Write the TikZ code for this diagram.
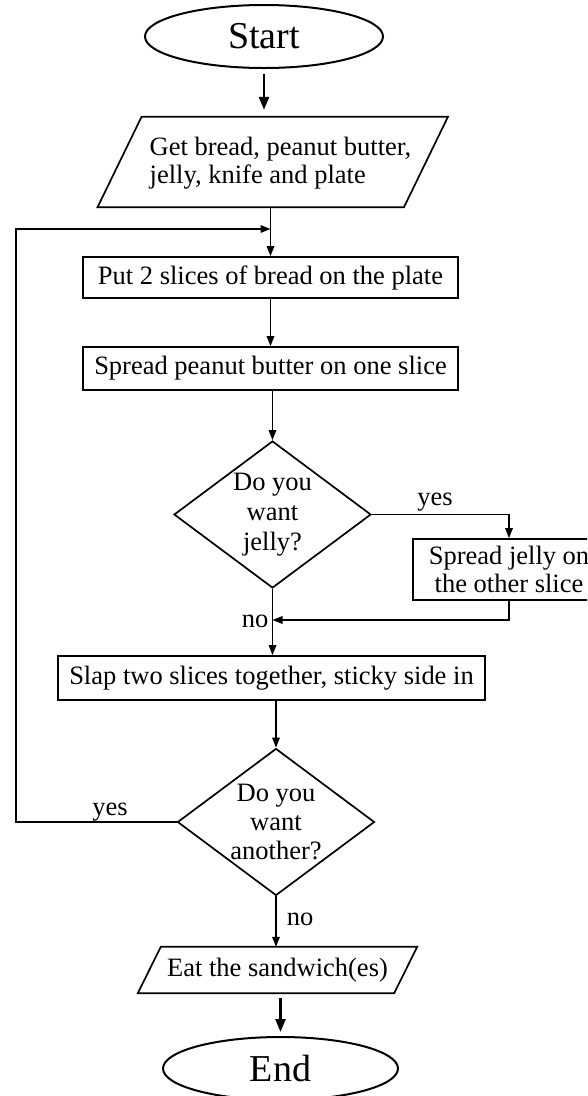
\documentclass[tikz,border=0pt]{standalone}
\usepackage{fontspec}
\setmainfont{Liberation Serif}
\usetikzlibrary{shapes.geometric,arrows.meta,calc}
\begin{document}
\begin{tikzpicture}[x=1pt,y=-1pt,
  every node/.style={font=\fontsize{26.5}{28}\selectfont, inner sep=0pt},
  term/.style={draw, ellipse, line width=2pt, minimum width=238pt, minimum height=63pt, font=\fontsize{38}{40}\selectfont},
  proc/.style={draw, rectangle, line width=1.7pt, align=center},
  io/.style={rectangle, align=center},
  dec/.style={draw, diamond, aspect=1.34, line width=1.7pt, minimum width=197pt, minimum height=147pt},
  arr/.style={-{Triangle[length=10pt,width=7.5pt]}, line width=1.6pt},
  bigarr/.style={-{Triangle[length=13pt,width=10pt]}, line width=2.5pt},
  pline/.style={line width=1.7pt, line join=miter}
]
\useasboundingbox (0,0) rectangle (587,1096);
\clip (0,0) rectangle (587,1096);

% nodes
\node[term] (start) at (264,36.5) {Start};
\node[io, minimum width=306pt, minimum height=90pt] (get) at (272.75,162) {};
\draw[pline] ([xshift=22pt]get.north west) -- ([xshift=22pt]get.north east)
  -- ([xshift=-22pt]get.south east) -- ([xshift=-22pt]get.south west) -- cycle;
\node[align=left] (gettext) at (280.5,163) {Get bread, peanut butter,\\jelly, knife and plate};

\node[proc, minimum width=375pt, minimum height=41pt] (put) at (270.5,277.5) {Put 2 slices of bread on the plate};
\node[proc, minimum width=375pt, minimum height=43pt] (spread) at (270.5,368.5) {Spread peanut butter on one slice};

\node[dec] (d1) at (272.5,514.5) {};
\node[align=center] (d1text) at (d1) {Do you\\[2pt]want\\[2pt]jelly?};

\node[proc, minimum width=192pt, minimum height=61pt] (jelly) at (509,569.5) {Spread jelly on\\the other slice};

\node[proc, minimum width=427pt, minimum height=44pt] (slap) at (271.5,678) {Slap two slices together, sticky side in};

\node[dec] (d2) at (276,822) {};
\node[align=center] (d2text) at (d2) {Do you\\[1pt]want\\[1pt]another?};

\node[io, minimum width=256pt, minimum height=46pt] (eat) at (277.5,970) {Eat the sandwich(es)};
\draw[pline] ([xshift=11.5pt]eat.north west) -- ([xshift=11.5pt]eat.north east)
  -- ([xshift=-11.5pt]eat.south east) -- ([xshift=-11.5pt]eat.south west) -- cycle;

\node[term, minimum width=235pt] (end) at (280.5,1068.5) {End};

% helper coordinates
\coordinate (jn) at (270.5,229);
\coordinate (lx) at (16,229);
\coordinate (mj) at (272.5,620);

% connectors
\draw[bigarr, shorten <=5pt, shorten >=7pt] (start.south) -- (start.south |- get.north);
\draw[arr] (get.south -| put.north) -- (put.north);
\draw[arr] (d2.west) -| (lx) -- (jn);
\draw[arr] (put.south) -- (spread.north);
\draw[arr] (spread.south -| d1.north) -- (d1.north);
\draw[arr] (d1.east) -| (jelly.north);
\draw[arr] (jelly.south) |- (mj);
\draw[arr] (d1.south) -- (d1.south |- slap.north);
\draw[arr] (slap.south -| d2.north) -- (d2.north);
\draw[arr] (d2.south) -- (d2.south |- eat.north);
\draw[bigarr, shorten <=5pt, shorten >=4pt] (eat.south -| end.north) -- (end.north);

% labels
\node[anchor=base] (yes1) at (435,505) {yes};
\node[anchor=base] (no1) at (255,627) {no};
\node[anchor=base] (yes2) at (110,815) {yes};
\node[anchor=base] (no2) at (300,925) {no};
\end{tikzpicture}
\end{document}
